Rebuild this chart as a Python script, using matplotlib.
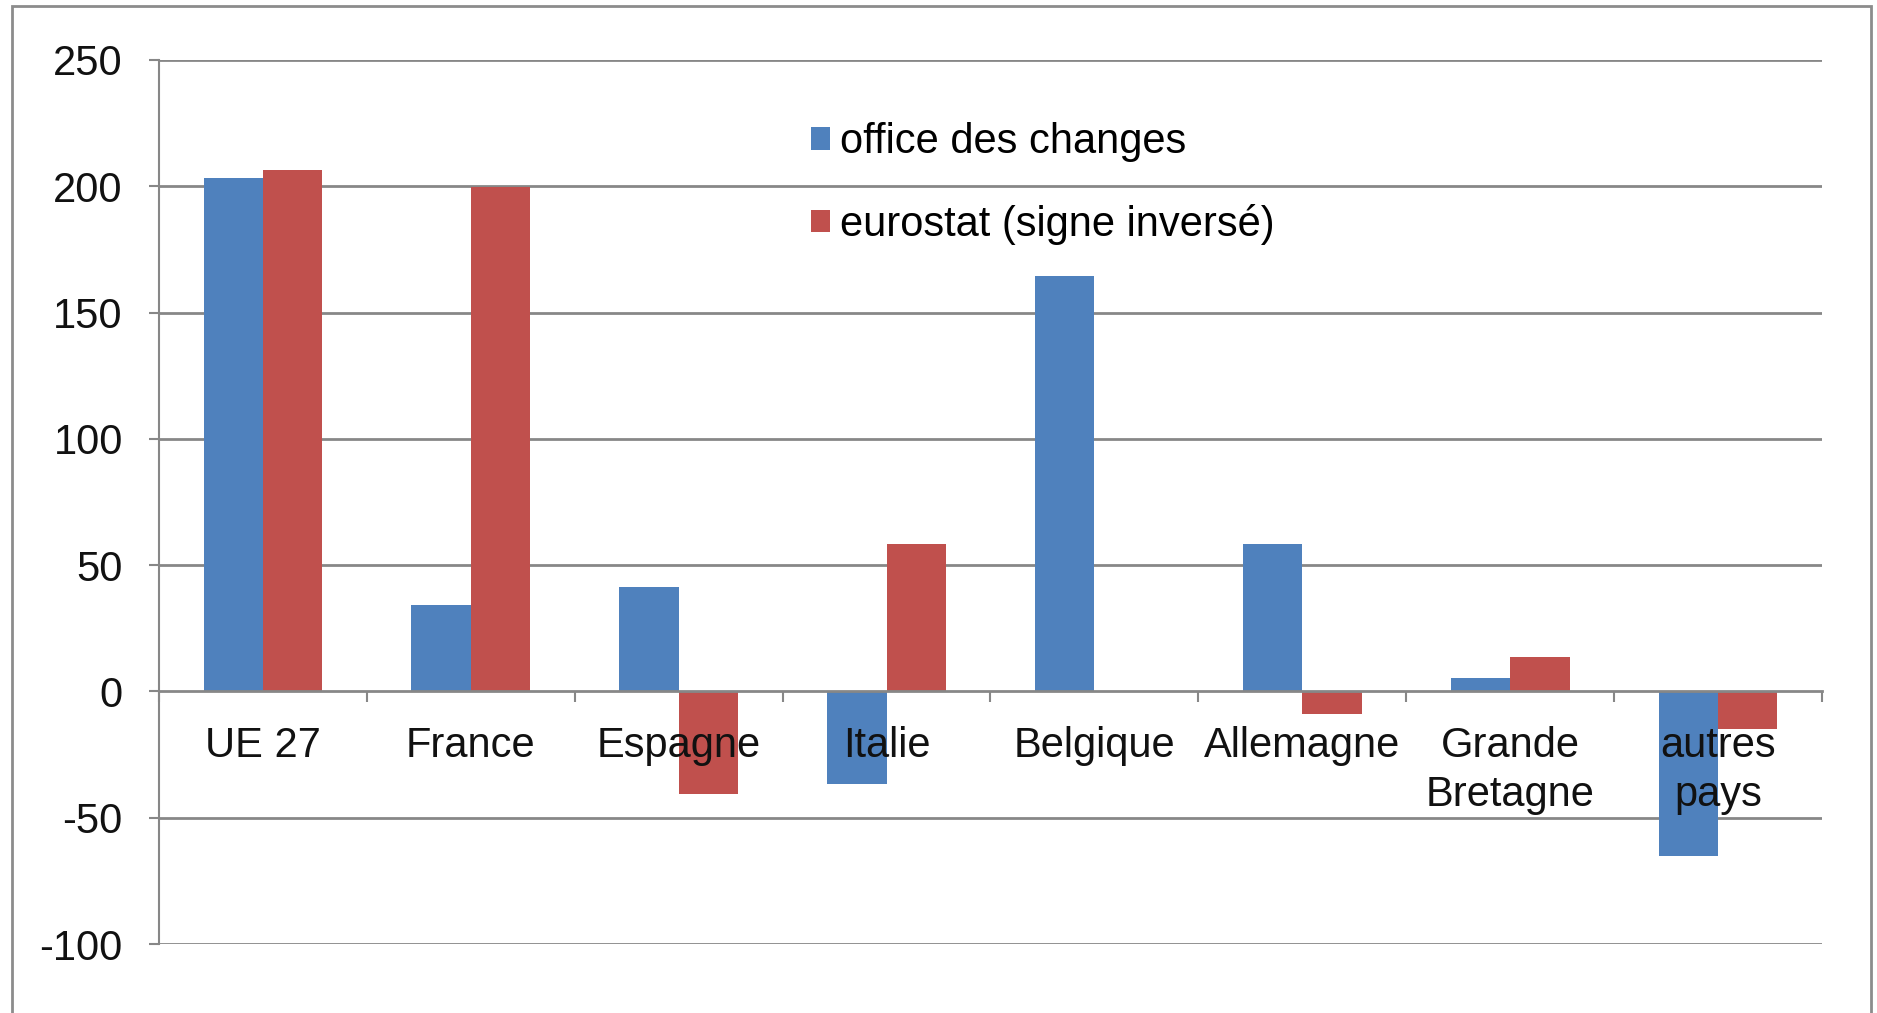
import matplotlib
matplotlib.use("Agg")
import matplotlib.pyplot as plt
from matplotlib.patches import Rectangle
import numpy as np

plt.rcParams['font.family'] = ['Liberation Sans', 'DejaVu Sans']
plt.rcParams['axes.unicode_minus'] = False

# Data
categories = ["UE 27", "France", "Espagne", "Italie", "Belgique",
              "Allemagne", "Grande\nBretagne", "autres\npays"]
office_des_changes = [203.3, 34.3, 41.3, -36.6, 164.4, 58.2, 5.3, -65.1]
eurostat_inverse = [206.3, 199.6, -40.7, 58.2, 0.0, -9.1, 13.5, -15.0]
series_names = ["office des changes", "eurostat (signe inversé)"]
y_ticks = [-100, -50, 0, 50, 100, 150, 200, 250]

blue = "#4F81BD"
red = "#C0504D"
gray = "#878787"
fs = 30

fig = plt.figure(figsize=(18.77, 10.13), dpi=100)
ax = fig.add_axes([0.0847, 0.0681, 0.886, 0.8727])

x = np.arange(len(categories))
w = 1 / 3.5  # Excel gap width 150%
ax.bar(x - w / 2, office_des_changes, w, color=blue, label=series_names[0], zorder=2)
ax.bar(x + w / 2, eurostat_inverse, w, color=red, label=series_names[1], zorder=2)

# horizontal gridlines behind the bars
for t in y_ticks:
    if t != 0:
        ax.axhline(t, color=gray, lw=2, zorder=0)

ax.set_xlim(-0.5, len(categories) - 0.5)
ax.set_ylim(-100, 250)

for s in ["top", "right"]:
    ax.spines[s].set_visible(False)
ax.spines["bottom"].set_position(("data", 0))
ax.spines["bottom"].set_color(gray)
ax.spines["bottom"].set_linewidth(2)
ax.spines["bottom"].set_zorder(3)
ax.spines["left"].set_color(gray)
ax.spines["left"].set_linewidth(1.5)

ax.set_yticks(y_ticks)
ax.set_yticklabels([str(t) for t in y_ticks])
ax.tick_params(axis="y", direction="out", length=7, width=1.5, color=gray,
               pad=19, labelsize=fs, labelcolor="#111111")

ax.set_xticks(x)
ax.set_xticklabels(categories, linespacing=1.3)
ax.set_xticks(np.arange(-0.5, len(categories)), minor=True)
ax.tick_params(axis="x", which="major", length=0, pad=25, labelsize=fs,
               labelcolor="#111111")
ax.tick_params(axis="x", which="minor", direction="out", length=8, width=1.5,
               color=gray)
ax.xaxis.set_zorder(5)

leg = ax.legend(loc="center left", bbox_to_anchor=(0.392, 0.860), frameon=False,
                fontsize=fs, handlelength=0.45, handleheight=0.45,
                handletextpad=0.25, labelspacing=1.0, borderpad=0,
                borderaxespad=0)

# outer chart border
fig.patches.append(Rectangle((12 / 1877, -0.01), 1859 / 1877, 1.01 - 6 / 1013,
                             transform=fig.transFigure, fill=False,
                             edgecolor="#8c8c8c", lw=2))

fig.savefig("out.png", dpi=100)
